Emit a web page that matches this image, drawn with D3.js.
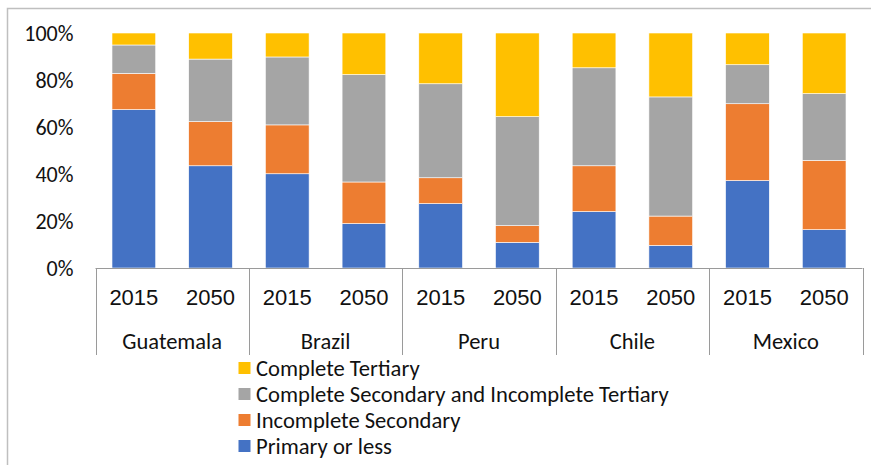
<!DOCTYPE html>
<html><head><meta charset="utf-8">
<script src="https://cdn.jsdelivr.net/npm/d3@7"></script>
<style>html,body{margin:0;padding:0;background:#fff;} svg{display:block;font-family:Carlito,Lato,"Open Sans",sans-serif;}</style>
</head><body>
<svg id="chart" width="871" height="465"></svg>
<script>
const countries = ["Guatemala","Brazil","Peru","Chile","Mexico"];
const years = ["2015","2050"];
const seriesNames = ["Primary or less","Incomplete Secondary","Complete Secondary and Incomplete Tertiary","Complete Tertiary"];
const seriesColors = ["#4472C4","#ED7D31","#A5A5A5","#FFC000"];
// shares (%) per bar, order: Guatemala 2015, 2050, Brazil 2015, 2050, Peru..., Chile..., Mexico...
const primaryOrLess = [67.4,43.5,40.1,18.9,27.4,10.9,24.0,9.6,37.2,16.3];
const incompleteSecondary = [15.4,18.8,20.8,17.7,11.0,7.1,19.5,12.5,32.7,29.5];
const completeSecondary = [12.1,26.6,28.9,45.7,40.0,46.4,41.7,50.7,16.6,28.4];
const completeTertiary = [5.1,11.1,10.2,17.7,21.6,35.6,14.8,27.2,13.5,25.8];
const yTicks = [0,0.2,0.4,0.6,0.8,1.0];

const bars = [];
countries.forEach((c,i)=>years.forEach((yr,j)=>{
  const k=i*2+j;
  bars.push({key:c+"|"+yr,country:c,year:yr,
    vals:[primaryOrLess[k],incompleteSecondary[k],completeSecondary[k],completeTertiary[k]]});
}));
const table = bars.map(b=>{
  const tot=d3.sum(b.vals); const o={key:b.key};
  seriesNames.forEach((s,i)=>o[s]=b.vals[i]/tot); return o;});
const stack = d3.stack().keys(seriesNames)(table);

const svg = d3.select("#chart");
const pLeft=95.5, pRight=862.5, pTop=33, pBottom=268;
const x = d3.scaleBand().domain(bars.map(b=>b.key)).range([pLeft,pRight]).paddingInner(0.43).paddingOuter(0.215);
const y = d3.scaleLinear().domain([0,1]).range([pBottom,pTop]);
const gx = d3.scaleBand().domain(countries).range([pLeft,pRight]);

// outer border
svg.append("rect").attr("x",7.5).attr("y",8.5).attr("width",880).attr("height",480)
  .attr("fill","none").attr("stroke","#BFBFBF").attr("stroke-width",1.5);

// bars
svg.append("g").selectAll("g").data(stack).join("g")
  .attr("fill",(d,i)=>seriesColors[i])
  .selectAll("rect").data(d=>d).join("rect")
  .attr("x",d=>x(d.data.key)).attr("width",x.bandwidth())
  .attr("y",d=>y(d[1])).attr("height",d=>y(d[0])-y(d[1]))
  .attr("stroke","#fff").attr("stroke-width",0.6);

// y axis
const ya = svg.append("g").attr("transform",`translate(${pLeft},0)`)
  .call(d3.axisLeft(y).tickValues(yTicks).tickFormat(d3.format(".0%")).tickSize(0).tickPadding(22));
ya.select(".domain").remove();
ya.selectAll("text").attr("font-size",22).attr("fill","#111").attr("font-family","Carlito,Lato,sans-serif");

// category axis lines
const axG = svg.append("g").attr("stroke","#9A9A9A").attr("stroke-width",1);
axG.append("line").attr("x1",pLeft).attr("x2",pRight).attr("y1",pBottom+0.5).attr("y2",pBottom+0.5);
const seps = countries.map(c=>gx(c)).concat([pRight]);
axG.selectAll("line.sep").data(seps).join("line").attr("class","sep")
  .attr("x1",d=>Math.round(d)+0.5).attr("x2",d=>Math.round(d)+0.5).attr("y1",pBottom).attr("y2",355);

// year labels
const xa = svg.append("g").attr("transform",`translate(0,${pBottom})`)
  .call(d3.axisBottom(x).tickSize(0).tickPadding(0).tickFormat(k=>k.split("|")[1]));
xa.select(".domain").remove();
xa.selectAll("text").attr("font-size",22).attr("fill","#111").attr("dy",null).attr("y",29).attr("dominant-baseline","central");

// country labels
svg.append("g").selectAll("text").data(countries).join("text")
  .attr("x",d=>gx(d)+gx.bandwidth()/2).attr("y",341).attr("text-anchor","middle")
  .attr("dominant-baseline","central").attr("font-size",22.5).attr("fill","#111").text(d=>d);

// legend
const legOrder = [3,2,1,0];
const lg = svg.append("g").selectAll("g").data(legOrder).join("g")
  .attr("transform",(d,i)=>`translate(238.5,${368+i*26})`);
lg.append("rect").attr("x",0).attr("y",-6).attr("width",12).attr("height",12).attr("fill",d=>seriesColors[d]);
lg.append("text").attr("x",17.5).attr("y",0).attr("dominant-baseline","central")
  .attr("font-size",22.6).attr("fill","#111").text(d=>seriesNames[d]);
</script>
</body></html>
